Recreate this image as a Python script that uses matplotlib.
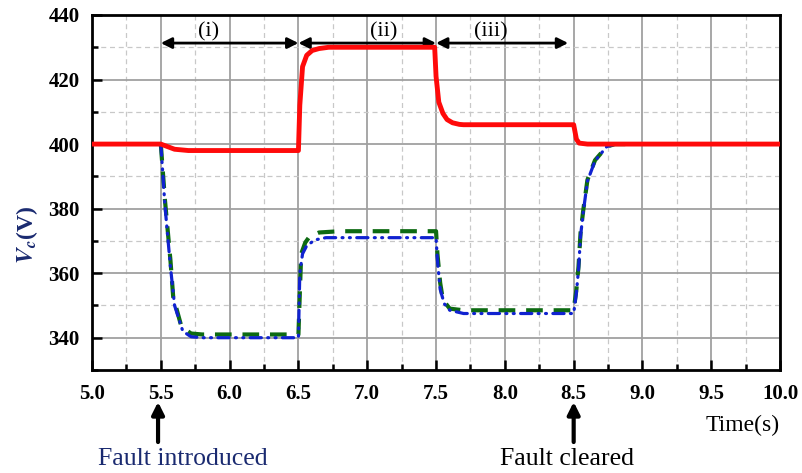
import matplotlib.pyplot as plt
from matplotlib.ticker import MultipleLocator

plt.rcParams['font.family'] = 'Liberation Serif'
plt.rcParams['mathtext.fontset'] = 'stix'

# red: solid trace
t_red = [5.0, 5.5, 5.55, 5.6, 5.7, 6.5, 6.51, 6.53, 6.56, 6.6, 6.65, 6.72, 6.8,
         7.49, 7.5, 7.52, 7.55, 7.58, 7.62, 7.67, 7.7, 8.5, 8.52, 8.54, 8.6, 10.0]
v_red = [400, 400, 399.2, 398.4, 398, 398, 412, 424, 427.5, 429, 429.6, 430, 430,
         430, 421, 413, 409.5, 407.6, 406.6, 406.1, 406, 406, 401.5, 400.3, 400, 400]

# green: dashed trace
t_green = [5.5, 5.53, 5.57, 5.59, 5.65, 5.72, 5.8, 6.5, 6.52, 6.55, 6.58, 6.65, 6.8,
           7.5, 7.51, 7.53, 7.55, 7.6, 7.7, 8.5, 8.52, 8.535, 8.55, 8.57, 8.6, 8.655,
           8.74, 8.8, 8.95]
v_green = [400, 382.7, 364, 352.7, 343.4, 341.3, 341, 341, 366, 369.5, 371.3, 372.6, 373,
           373, 366, 357, 351.7, 349, 348.5, 348.5, 355, 362, 372.5, 379.6, 388.9, 395,
           399.2, 400, 400]

# blue: dash-dot-dot trace
t_blue = [5.5, 5.53, 5.57, 5.6, 5.66, 5.72, 5.8, 6.5, 6.51, 6.53, 6.56, 6.62, 6.7,
          7.5, 7.51, 7.53, 7.56, 7.6, 7.7, 8.5, 8.52, 8.535, 8.55, 8.57, 8.6, 8.655,
          8.74, 8.8, 8.95]
v_blue = [400, 381, 362, 350, 342, 340.3, 340, 340, 360, 366, 368.5, 370.3, 371,
          371, 364, 355, 350.5, 348.5, 347.5, 347.5, 354, 361, 371.5, 379, 388.5, 394.8,
          399.2, 400, 400]

phases = [('(i)', 5.5, 6.5, 5.85), ('(ii)', 6.5, 7.5, 7.12), ('(iii)', 7.5, 8.46, 7.9)]

fig = plt.figure(figsize=(8.02, 4.73), dpi=100)
ax = fig.add_axes([0.1147, 0.2178, 0.858, 0.7505])

ax.plot(t_green, v_green, color='#0d6a12', lw=3.0, linestyle=(0, (4, 2.6)), zorder=3)
ax.plot(t_blue, v_blue, color='#1022d0', lw=2.3,
        linestyle=(0, (3.5, 2, 0.3, 2, 0.3, 2)), dash_capstyle='round', zorder=4)
ax.plot(t_red, v_red, color='#ff0a0a', lw=3.5, solid_capstyle='butt', zorder=5)

ax.set_xlim(5.0, 10.0)
ax.set_ylim(330, 440)
ax.xaxis.set_major_locator(MultipleLocator(0.5))
ax.xaxis.set_minor_locator(MultipleLocator(0.25))
ax.yaxis.set_major_locator(MultipleLocator(20))
ax.yaxis.set_minor_locator(MultipleLocator(10))
ax.set_yticks([340, 360, 380, 400, 420, 440])

ax.grid(which='major', color='#a0a0a0', lw=1.3, ls='-')
ax.grid(which='minor', color='#c8c8c8', lw=0.9, ls=(0, (4, 3)))
ax.set_axisbelow(True)

ax.tick_params(which='both', direction='in', top=False, right=False, width=1.8)
ax.tick_params(which='major', length=7, labelsize=15)
ax.tick_params(axis='x', which='major', pad=10)
ax.tick_params(axis='y', which='major', pad=9)
ax.tick_params(which='minor', length=4)
for lab in ax.get_xticklabels() + ax.get_yticklabels():
    lab.set_fontweight('bold')
for s in ax.spines.values():
    s.set_linewidth(2.0)

ax.set_ylabel(r'$\mathbfit{V}_{\mathbfit{c}}$(V)', color='#1a2a70', fontsize=17,
              fontweight='bold')
ax.yaxis.set_label_coords(-0.075, 0.38)

ax.text(1.0, -0.155, 'Time(s)', transform=ax.transAxes, ha='right', va='center', fontsize=17)

for lbl, a, b, xm in phases:
    ax.annotate('', xy=(b, 431.3), xytext=(a, 431.3),
                arrowprops=dict(arrowstyle='<|-|>', color='black', lw=2, mutation_scale=16,
                                shrinkA=0, shrinkB=0))
    ax.text(xm, 431.8, lbl, ha='center', va='bottom', fontsize=16)

for xpos, txt, col, xt in [(5.48, 'Fault introduced', '#1a2a70', 5.66),
                           (8.5, 'Fault cleared', 'black', 8.45)]:
    ax.annotate('', xy=(xpos, -0.09), xytext=(xpos, -0.203),
                xycoords=('data', 'axes fraction'), textcoords=('data', 'axes fraction'),
                arrowprops=dict(arrowstyle='-|>', color='black', lw=3, mutation_scale=18,
                                shrinkA=0, shrinkB=0), annotation_clip=False)
    ax.text(xt, -0.268, txt, transform=ax.get_xaxis_transform(), ha='center',
            va='baseline', fontsize=18.5, color=col)

fig.savefig('out.png', dpi=100)
